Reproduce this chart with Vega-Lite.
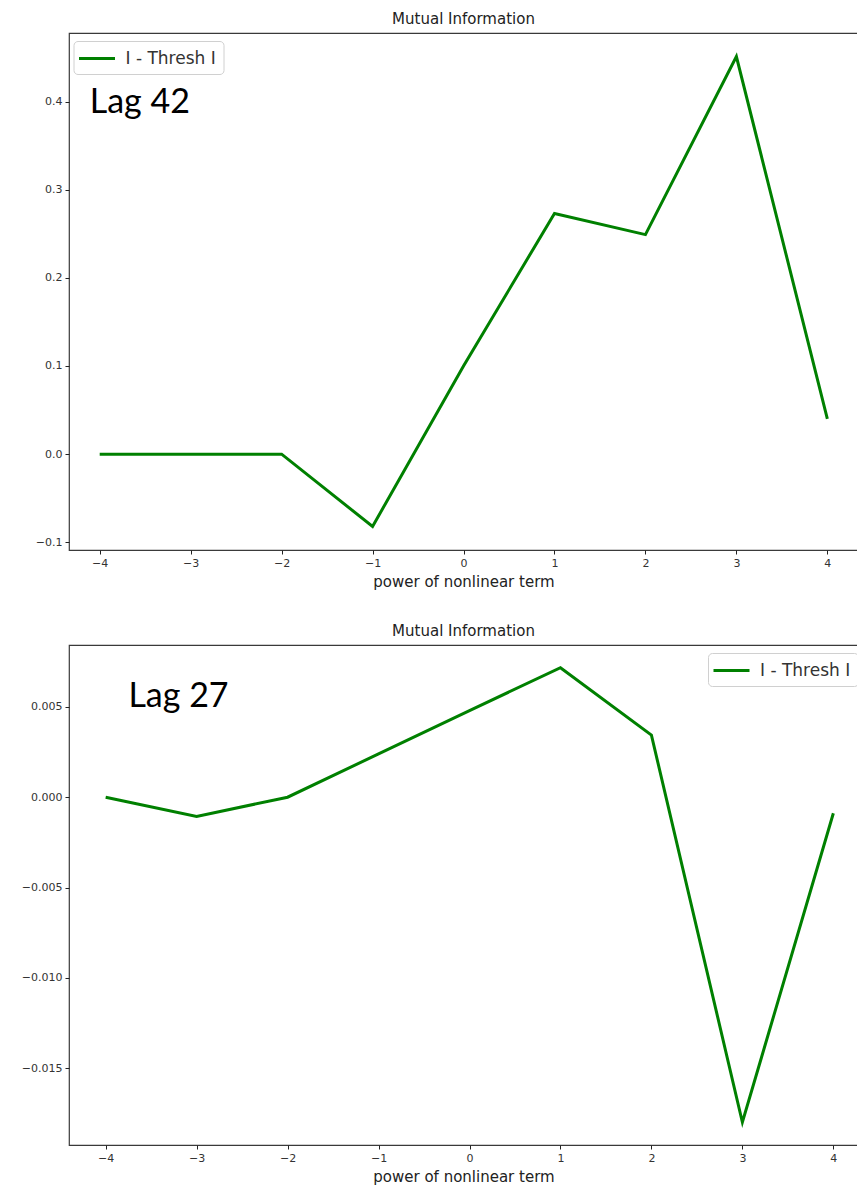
{
  "$schema": "https://vega.github.io/schema/vega-lite/v6.json",
  "background": "white",
  "padding": {"left": 20, "top": 11, "right": 0, "bottom": 0},
  "spacing": 33,
  "config": {
    "font": "DejaVu Sans",
    "view": {"stroke": "#3a3a3a", "strokeWidth": 1.2},
    "axis": {
      "domain": false,
      "grid": false,
      "ticks": true,
      "tickColor": "#222",
      "tickSize": 4,
      "labelFont": "DejaVu Sans",
      "labelFontSize": 11,
      "labelColor": "#333",
      "labelPadding": 3,
      "titleFont": "DejaVu Sans",
      "titleFontSize": 15,
      "titleFontWeight": "normal",
      "titleColor": "#222",
      "titlePadding": 6
    },
    "title": {"font": "DejaVu Sans", "fontSize": 15, "fontWeight": "normal", "color": "#222", "offset": 6},
    "legend": {
      "title": null,
      "symbolType": "M-2,0H2",
      "symbolStrokeWidth": 3,
      "symbolSize": 324,
      "symbolOffset": 6,
      "labelOffset": 18,
      "labelFont": "DejaVu Sans",
      "labelFontSize": 17,
      "labelColor": "#333",
      "strokeColor": "#d0d0d0",
      "fillColor": "white",
      "cornerRadius": 4,
      "padding": 7
    }
  },
  "datasets": {
    "top": [
      {"power": -4, "mi": 0, "series": "I - Thresh I"},
      {"power": -3, "mi": 0, "series": "I - Thresh I"},
      {"power": -2, "mi": 0, "series": "I - Thresh I"},
      {"power": -1, "mi": -0.082, "series": "I - Thresh I"},
      {"power": 0, "mi": 0.1, "series": "I - Thresh I"},
      {"power": 1, "mi": 0.273, "series": "I - Thresh I"},
      {"power": 2, "mi": 0.249, "series": "I - Thresh I"},
      {"power": 3, "mi": 0.451, "series": "I - Thresh I"},
      {"power": 4, "mi": 0.04, "series": "I - Thresh I"}
    ],
    "bottom": [
      {"power": -4, "mi": 0, "series": "I - Thresh I"},
      {"power": -3, "mi": -0.00106, "series": "I - Thresh I"},
      {"power": -2, "mi": 0, "series": "I - Thresh I"},
      {"power": -1, "mi": 0.0024, "series": "I - Thresh I"},
      {"power": 0, "mi": 0.0048, "series": "I - Thresh I"},
      {"power": 1, "mi": 0.00717, "series": "I - Thresh I"},
      {"power": 2, "mi": 0.00344, "series": "I - Thresh I"},
      {"power": 3, "mi": -0.018, "series": "I - Thresh I"},
      {"power": 4, "mi": -0.00089, "series": "I - Thresh I"}
    ],
    "topLabel": [{"power": -4.11, "mi": 0.387, "label": "Lag 42"}],
    "bottomLabel": [{"power": -3.75, "mi": 0.005, "label": "Lag 27"}]
  },
  "resolve": {"scale": {"color": "independent"}, "legend": {"color": "independent"}},
  "vconcat": [
    {
      "width": 789,
      "height": 517,
      "title": {"text": "Mutual Information"},
      "layer": [
        {
          "data": {"name": "top"},
          "mark": {"type": "line", "strokeWidth": 3},
          "encoding": {
            "x": {"field": "power", "type": "quantitative",
                  "scale": {"domain": [-4.3375, 4.337], "nice": false, "zero": false},
                  "axis": {"values": [-4, -3, -2, -1, 0, 1, 2, 3, 4], "format": "d", "title": "power of nonlinear term"}},
            "y": {"field": "mi", "type": "quantitative",
                  "scale": {"domain": [-0.1087, 0.4777], "nice": false, "zero": false},
                  "axis": {"values": [-0.1, 0, 0.1, 0.2, 0.3, 0.4], "format": ".1f", "title": null}},
            "color": {"field": "series", "type": "nominal", "scale": {"range": ["#008000"]},
                      "legend": {"orient": "none", "legendX": 4.5, "legendY": 8}}
          }
        },
        {
          "data": {"name": "topLabel"},
          "mark": {"type": "text", "font": "Lato", "fontSize": 34, "align": "left", "baseline": "alphabetic", "color": "black"},
          "encoding": {
            "x": {"field": "power", "type": "quantitative"},
            "y": {"field": "mi", "type": "quantitative"},
            "text": {"field": "label"}
          }
        }
      ]
    },
    {
      "width": 789,
      "height": 500,
      "title": {"text": "Mutual Information"},
      "layer": [
        {
          "data": {"name": "bottom"},
          "mark": {"type": "line", "strokeWidth": 3},
          "encoding": {
            "x": {"field": "power", "type": "quantitative",
                  "scale": {"domain": [-4.403, 4.271], "nice": false, "zero": false},
                  "axis": {"values": [-4, -3, -2, -1, 0, 1, 2, 3, 4], "format": "d", "title": "power of nonlinear term"}},
            "y": {"field": "mi", "type": "quantitative",
                  "scale": {"domain": [-0.01926, 0.00843], "nice": false, "zero": false},
                  "axis": {"values": [-0.015, -0.01, -0.005, 0, 0.005], "format": ".3f", "title": null}},
            "color": {"field": "series", "type": "nominal", "scale": {"range": ["#008000"]},
                      "legend": {"orient": "none", "legendX": 639, "legendY": 8}}
          }
        },
        {
          "data": {"name": "bottomLabel"},
          "mark": {"type": "text", "font": "Lato", "fontSize": 34, "align": "left", "baseline": "alphabetic", "color": "black"},
          "encoding": {
            "x": {"field": "power", "type": "quantitative"},
            "y": {"field": "mi", "type": "quantitative"},
            "text": {"field": "label"}
          }
        }
      ]
    }
  ]
}
